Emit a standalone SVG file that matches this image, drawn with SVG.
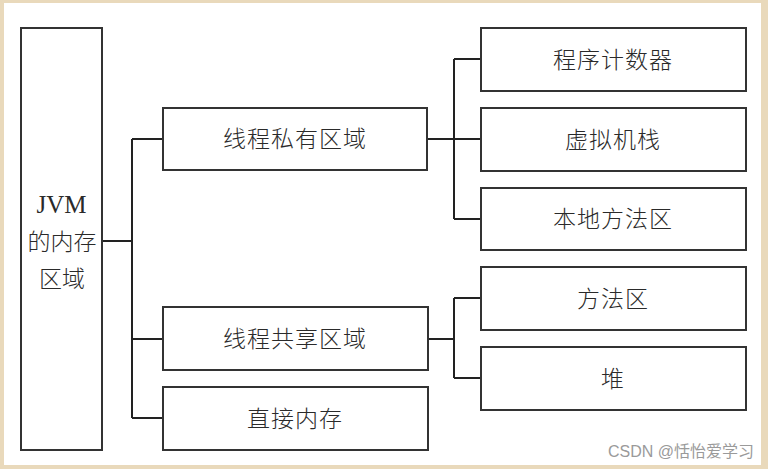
<svg xmlns="http://www.w3.org/2000/svg" width="768" height="469" viewBox="0 0 768 469">
<style>
.box{fill:#fff;stroke:#333;stroke-width:2}
.lbl{font-family:"Noto Sans CJK SC","Noto Sans",sans-serif;font-size:23px;font-weight:300;fill:#2a2a2a;text-anchor:middle;letter-spacing:1px}
.conn{fill:none;stroke:#222;stroke-width:2}
</style>
<rect x="0" y="0" width="768" height="469" fill="#E9D9BB"/>
<rect x="4" y="3" width="757" height="462" fill="#fff"/>
<g id="connectors">
<path class="conn" d="M102,241 H132 M132,139 V418 M132,139 H163 M132,339 H163 M132,418 H163"/>
<path class="conn" d="M427,139 H454 M454,59 V219 M454,59 H481 M454,139 H481 M454,219 H481"/>
<path class="conn" d="M428,339 H454 M454,298 V378 M454,298 H481 M454,378 H481"/>
</g>
<g id="jvm">
<rect class="box" x="21" y="28" width="81" height="422"/>
<text class="lbl" x="61.5" y="213" style="font-family:'Liberation Serif',serif;font-size:25px;letter-spacing:0">JVM</text>
<text class="lbl" x="62" y="250" style="letter-spacing:0">的内存</text>
<text class="lbl" x="62" y="287" style="letter-spacing:0">区域</text>
</g>
<g id="private">
<rect class="box" x="163" y="108" width="264" height="62"/>
<text class="lbl" x="295" y="147">线程私有区域</text>
</g>
<g id="shared">
<rect class="box" x="163" y="307" width="265" height="63"/>
<text class="lbl" x="295" y="347">线程共享区域</text>
</g>
<g id="direct">
<rect class="box" x="163" y="387" width="265" height="63"/>
<text class="lbl" x="295" y="427">直接内存</text>
</g>
<g id="pc">
<rect class="box" x="481" y="28" width="265" height="63"/>
<text class="lbl" x="613" y="68">程序计数器</text>
</g>
<g id="vmstack">
<rect class="box" x="481" y="108" width="265" height="63"/>
<text class="lbl" x="613" y="148">虚拟机栈</text>
</g>
<g id="native">
<rect class="box" x="481" y="188" width="265" height="62"/>
<text class="lbl" x="613" y="227">本地方法区</text>
</g>
<g id="method">
<rect class="box" x="481" y="267" width="265" height="63"/>
<text class="lbl" x="613" y="307">方法区</text>
</g>
<g id="heap">
<rect class="box" x="481" y="347" width="265" height="63"/>
<text class="lbl" x="613" y="387">堆</text>
</g>
<text x="754" y="457" font-family="'Liberation Sans','Noto Sans CJK SC',sans-serif" font-size="16" fill="#9a9a9a" text-anchor="end">CSDN @恬怡爱学习</text>
</svg>
